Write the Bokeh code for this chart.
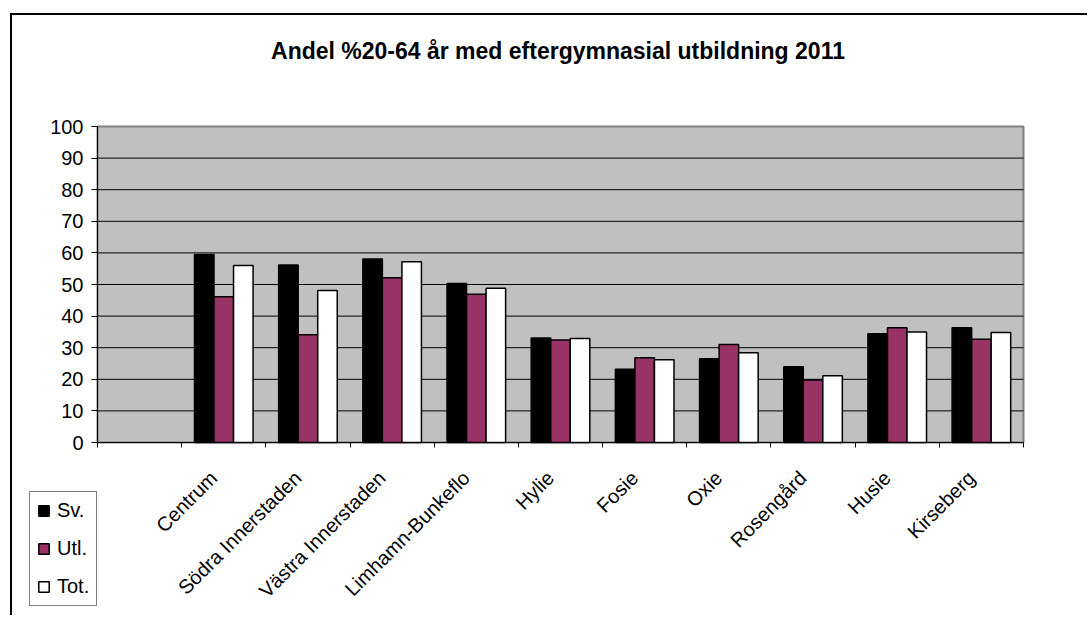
import math
from bokeh.plotting import figure
from bokeh.models import (LinearAxis, FixedTicker, Range1d, ColumnDataSource, Legend,
                          LegendItem, Label)
from bokeh.transform import dodge
from bokeh.embed import file_html
from bokeh.resources import INLINE

nan = float("nan")
categories = ["", "Centrum", "Södra Innerstaden", "Västra Innerstaden", "Limhamn-Bunkeflo",
              "Hylie", "Fosie", "Oxie", "Rosengård", "Husie", "Kirseberg"]
sv = [nan, 59.5, 56.2, 58.1, 50.3, 33.1, 23.2, 26.5, 24.0, 34.4, 36.3]
utl = [nan, 46.1, 34.1, 52.1, 46.9, 32.4, 26.8, 31.0, 19.8, 36.3, 32.7]
tot = [nan, 56.0, 48.1, 57.2, 48.8, 32.9, 26.2, 28.4, 21.1, 35.0, 34.8]
series_names = ["Sv.", "Utl.", "Tot."]
y_ticks = list(range(0, 101, 10))
title_text = "Andel %20-64 år med eftergymnasial utbildning 2011"

FONT = "Liberation Sans"
# canvas and plot-area geometry (pixels)
W, H = 1077, 602
PLOT_LEFT, PLOT_TOP, PLOT_W, PLOT_H = 85, 111, 926, 316

n = len(categories)
ymax = y_ticks[-1]
centers = [i + 0.5 for i in range(n)]
bounds = list(range(n + 1))

# ranges chosen so that the whole canvas is the frame and the plot area sits where it should
x0 = -PLOT_LEFT * n / PLOT_W
x1 = (W - PLOT_LEFT) * n / PLOT_W
y0 = -(H - PLOT_TOP - PLOT_H) * ymax / PLOT_H
y1 = ymax + PLOT_TOP * ymax / PLOT_H

src = ColumnDataSource(dict(x=centers, sv=sv, utl=utl, tot=tot))

p = figure(width=W, height=H, x_range=Range1d(x0, x1), y_range=Range1d(y0, y1),
           output_backend="svg", toolbar_location=None, x_axis_type=None, y_axis_type=None,
           min_border_left=0, min_border_right=0, min_border_top=0, min_border_bottom=0,
           background_fill_color="white", border_fill_color="white")
p.outline_line_color = None
p.margin = (13, 0, 0, 10)
p.styles = {"border-top": "2px solid black", "border-left": "2px solid black"}

# plot area background and grid lines
p.quad(left=[0], right=[n], bottom=[0], top=[ymax], fill_color="#C0C0C0",
       line_color="#808080", line_width=2, level="underlay")
inner = y_ticks[1:-1]
p.segment(x0=[0] * len(inner), x1=[n] * len(inner), y0=inner, y1=inner,
          line_color="black", line_width=1, level="underlay")

# y axis
ya = LinearAxis(ticker=FixedTicker(ticks=y_ticks), fixed_location=0, bounds=(0, ymax),
                major_tick_in=0, major_tick_out=6, minor_tick_line_color=None,
                axis_line_color="black", major_tick_line_color="black",
                major_label_text_font=FONT, major_label_text_font_size="20px",
                major_label_text_color="black", major_label_standoff=8)
p.add_layout(ya, "left")

# x axis: boundary tick marks (minor) + category labels (major, no marks)
lab_shift = -0.12
label_ticks = [c + lab_shift for c, name in zip(centers, categories) if name]
xa = LinearAxis(ticker=FixedTicker(ticks=label_ticks, minor_ticks=bounds),
                fixed_location=0, bounds=(0, n),
                major_label_overrides={c + lab_shift: name for c, name in zip(centers, categories) if name},
                axis_line_color="black", major_tick_line_color=None,
                major_tick_in=0, major_tick_out=0,
                minor_tick_in=0, minor_tick_out=5, minor_tick_line_color="black",
                major_label_orientation=math.pi / 4, major_label_standoff=27,
                major_label_text_font=FONT, major_label_text_font_size="20px",
                major_label_text_color="black")
p.add_layout(xa, "below")

# bars
bw = 0.232
colors = ["black", "#993366", "white"]
fields = ["sv", "utl", "tot"]
offsets = [-bw, 0.0, bw]
items = []
for f, c, off, name in zip(fields, colors, offsets, series_names):
    r = p.vbar(x=dodge("x", off), top=f, width=bw, bottom=0, source=src,
               fill_color=c, line_color="black", line_width=1.5)
    items.append(LegendItem(label=name, renderers=[r]))

# legend (inside the canvas-wide frame, bottom-left)
lg = Legend(items=items, location=(17, 11))
lg.border_line_color = "black"
lg.border_line_width = 1
lg.background_fill_color = "white"
lg.background_fill_alpha = 1
lg.padding = 7
lg.spacing = 15
lg.margin = 0
lg.glyph_width = 13
lg.glyph_height = 13
lg.label_standoff = 7
lg.label_height = 23
lg.label_text_font = FONT
lg.label_text_font_size = "20px"
lg.label_text_color = "black"
lg.label_text_baseline = "middle"
p.add_layout(lg, "center")

# title
p.add_layout(Label(x=545.5, y=H - 35, x_units="screen", y_units="screen", text=title_text,
                   text_align="center", text_baseline="middle", text_font=FONT,
                   text_font_size="23px", text_font_style="bold", text_color="black"))

open("out.html", "w").write(file_html(p, INLINE))
